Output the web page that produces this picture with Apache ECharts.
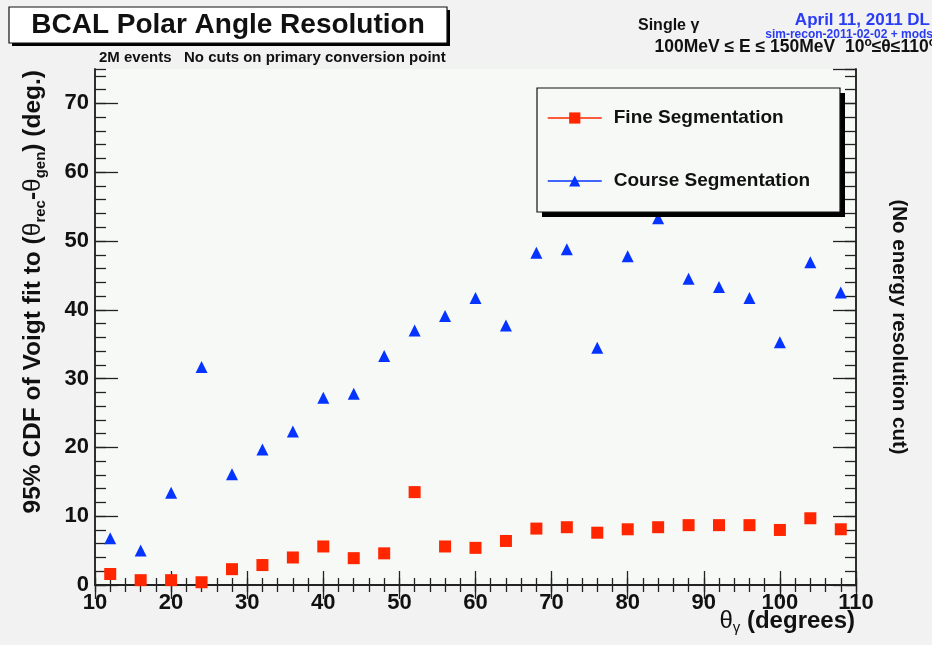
<html><head>
<meta charset="UTF-8">
<title>BCAL Polar Angle Resolution</title>
<script src="https://cdn.jsdelivr.net/npm/echarts@6/dist/echarts.min.js"></script>
<style>
  body { margin: 0; background: #f2f2f2; }
  #chart { width: 932px; height: 645px; }
</style>
</head>
<body>
<div id="chart"></div>
<script>
  // polar angle bins (deg)
  const thetaBins = [12, 16, 20, 24, 28, 32, 36, 40, 44, 48, 52, 56, 60, 64, 68, 72, 76, 80, 84, 88, 92, 96, 100, 104, 108];
  const fineSeg = [1.6, 0.7, 0.7, 0.4, 2.3, 2.9, 4.0, 5.6, 3.9, 4.6, 13.5, 5.6, 5.4, 6.4, 8.2, 8.4, 7.6, 8.1, 8.4, 8.7, 8.7, 8.7, 8.0, 9.7, 8.1];
  const courseSeg = [6.8, 5.0, 13.4, 31.7, 16.1, 19.7, 22.3, 27.2, 27.8, 33.3, 37.0, 39.1, 41.7, 37.7, 48.3, 48.8, 34.5, 47.8, 53.3, 44.5, 43.3, 41.7, 35.3, 46.9, 42.5];
  const seriesNames = ['Fine Segmentation', 'Course Segmentation'];

  const toPairs = vals => thetaBins.map((t, i) => [t, vals[i]]);

  const FONT = '"Liberation Sans", Arial, sans-serif';
  const RED = '#ff2600';
  const BLUE = '#0533ff';
  const AX = '#222';

  function xAx(pos, interval, len, labels) {
    return {
      type: 'value', position: pos, min: 10, max: 110, interval: interval,
      axisLine: { show: true, lineStyle: { color: AX, width: 1.5 } },
      axisTick: { show: true, inside: true, length: len, lineStyle: { color: AX, width: 1.3 } },
      axisLabel: { show: labels, margin: 7, color: '#111', fontFamily: FONT, fontSize: 22, fontWeight: 'bold' },
      splitLine: { show: false }
    };
  }
  function yAx(pos, interval, len, labels) {
    return {
      type: 'value', position: pos, min: 0, max: 75, interval: interval,
      axisLine: { show: true, lineStyle: { color: AX, width: 1.5 } },
      axisTick: { show: true, inside: true, length: len, lineStyle: { color: AX, width: 1.3 } },
      axisLabel: { show: labels, margin: 6, showMaxLabel: false, color: '#111', fontFamily: FONT, fontSize: 22, fontWeight: 'bold' },
      splitLine: { show: false }
    };
  }

  // box with a hard black drop shadow, ROOT style
  function shadowBox(x, y, w, h, off, fill, z) {
    return [
      { type: 'rect', z: z, shape: { x: x + off, y: y + off, width: w, height: h }, style: { fill: '#000' } },
      { type: 'rect', z: z + 1, shape: { x: x, y: y, width: w, height: h }, style: { fill: fill, stroke: '#111', lineWidth: 1.2 } }
    ];
  }

  const chart = echarts.init(document.getElementById('chart'));

  const option = {
    backgroundColor: '#f2f2f2',
    animation: false,
    grid: { left: 95, right: 76, top: 69, bottom: 60, show: true, backgroundColor: '#f6f9f6', borderWidth: 0 },
    xAxis: [xAx('bottom', 10, 14, true), xAx('top', 10, 14, false), xAx('bottom', 2, 7, false), xAx('top', 2, 7, false)],
    yAxis: [yAx('left', 10, 23, true), yAx('right', 10, 23, false), yAx('left', 2, 11, false), yAx('right', 2, 11, false)],
    legend: {
      left: 537, top: 88, orient: 'vertical', z: 20,
      padding: [20, 34, 21, 10],
      itemGap: 43, itemWidth: 54, itemHeight: 14,
      textStyle: { fontFamily: FONT, fontSize: 19, fontWeight: 'bold', color: '#111', lineHeight: 20, padding: [0, 0, 0, 7] },
      data: [
        { name: seriesNames[0], lineStyle: { color: RED, width: 1.5, opacity: 1 } },
        { name: seriesNames[1], lineStyle: { color: BLUE, width: 1.5, opacity: 1 } }
      ]
    },
    graphic: [
      ...shadowBox(537, 88, 303, 124, 5, '#f6f9f6', 10),
      ...shadowBox(9, 7, 438, 36, 3, '#fff', 10),
      {
        type: 'text', x: 228, y: 25, z: 12,
        style: { text: 'BCAL Polar Angle Resolution', font: 'bold 28px ' + FONT, fill: '#111', align: 'center', verticalAlign: 'middle' }
      },
      {
        type: 'text', x: 99, y: 58,
        style: { text: '2M events   No cuts on primary conversion point', font: 'bold 15px ' + FONT, fill: '#111', verticalAlign: 'middle' }
      },
      {
        type: 'text', x: 638, y: 26,
        style: { text: 'Single γ', font: 'bold 16px ' + FONT, fill: '#111', verticalAlign: 'middle' }
      },
      {
        type: 'text', x: 930, y: 20,
        style: { text: 'April 11, 2011 DL', font: 'bold 17px ' + FONT, fill: '#2a3cf5', align: 'right', verticalAlign: 'middle' }
      },
      {
        type: 'text', x: 933, y: 35,
        style: { text: 'sim-recon-2011-02-02 + mods', font: 'bold 12px ' + FONT, fill: '#2a3cf5', align: 'right', verticalAlign: 'middle' }
      },
      {
        type: 'text', x: 936, y: 47,
        style: {
          text: '100MeV ≤ E ≤ 150MeV  10{sup|o}≤θ≤110{sup|o}',
          font: 'bold 17.5px ' + FONT, fill: '#111', align: 'right', verticalAlign: 'middle', lineHeight: 20,
          rich: {
            sup: { fontFamily: FONT, fontSize: 12, fontWeight: 'bold', fill: '#111', lineHeight: 12, verticalAlign: 'top' }
          }
        }
      },
      // y title, right-aligned to the top of the axis as ROOT does
      {
        type: 'text', x: 33, y: 70, rotation: Math.PI / 2,
        style: {
          text: '95% CDF of Voigt fit to ({th|θ}{sub|rec}-{th|θ}{sub|gen}) (deg.)',
          font: 'bold 24.5px ' + FONT, fill: '#111', align: 'right', verticalAlign: 'middle', lineHeight: 30,
          rich: {
            th: { fontFamily: FONT, fontSize: 24.5, fontWeight: 'normal', fill: '#111', lineHeight: 30 },
            sub: { fontFamily: FONT, fontSize: 15, fontWeight: 'bold', fill: '#111', lineHeight: 14, verticalAlign: 'bottom' }
          }
        }
      },
      {
        type: 'text', x: 899, y: 327, rotation: -Math.PI / 2,
        style: { text: '(No energy resolution cut)', font: 'bold 20.5px ' + FONT, fill: '#111', align: 'center', verticalAlign: 'middle' }
      },
      {
        type: 'text', x: 855, y: 621,
        style: {
          text: '{th|θ}{sub|γ} (degrees)',
          font: 'bold 24px ' + FONT, fill: '#111', align: 'right', verticalAlign: 'middle', lineHeight: 28,
          rich: {
            th: { fontFamily: FONT, fontSize: 24, fontWeight: 'normal', fill: '#111', lineHeight: 28 },
            sub: { fontFamily: FONT, fontSize: 15, fontWeight: 'normal', fill: '#111', lineHeight: 13, verticalAlign: 'bottom' }
          }
        }
      }
    ],
    series: [
      {
        name: seriesNames[0], type: 'line', data: toPairs(fineSeg),
        symbol: 'rect', symbolSize: 12, showAllSymbol: true,
        itemStyle: { color: RED },
        lineStyle: { color: RED, opacity: 0 }
      },
      {
        name: seriesNames[1], type: 'line', data: toPairs(courseSeg),
        symbol: 'triangle', symbolSize: 12, showAllSymbol: true,
        itemStyle: { color: BLUE },
        lineStyle: { color: BLUE, opacity: 0 }
      }
    ]
  };

  chart.setOption(option);
</script>
</body></html>
